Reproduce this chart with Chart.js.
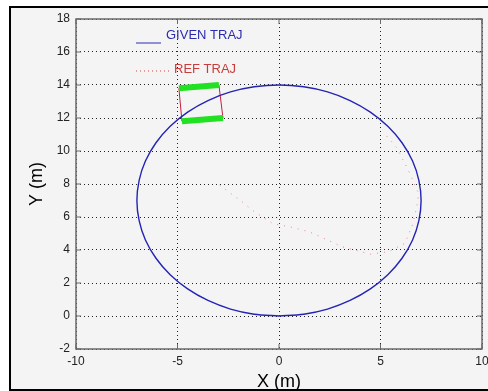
<!DOCTYPE html>
<html>
<head>
<meta charset="utf-8">
<script src="https://cdn.jsdelivr.net/npm/chart.js@4/dist/chart.umd.min.js"></script>
<style>
  body { margin: 0; background: #fff; }
  #bg { position: absolute; left: 9px; top: 6px; width: 500px; height: 385px; background: #f4f4f4; }
  #frame { position: absolute; left: 9px; top: 6px; width: 500px; height: 381px; border: 2px solid #000; pointer-events: none; }
  #wrap { position: absolute; left: 0; top: 0; width: 488px; height: 391px; }
</style>
</head>
<body>
<div id="bg"></div>
<div id="wrap"><canvas id="traj"></canvas></div>
<div id="frame"></div>
<script>
// given trajectory (blue)
const givenX = [0, 1.22, 2.39, 3.5, 4.5, 5.36, 6.06, 6.58, 6.89, 7,
  6.89, 6.58, 6.06, 5.36, 4.5, 3.5, 2.39, 1.22, 0,
  -1.22, -2.39, -3.5, -4.5, -5.36, -6.06, -6.58, -6.89, -7,
  -6.89, -6.58, -6.06, -5.36, -4.5, -3.5, -2.39, -1.22, 0];
const givenY = [0, 0.11, 0.42, 0.94, 1.64, 2.5, 3.5, 4.61, 5.78, 7,
  8.22, 9.39, 10.5, 11.5, 12.36, 13.06, 13.58, 13.89, 14,
  13.89, 13.58, 13.06, 12.36, 11.5, 10.5, 9.39, 8.22, 7,
  5.78, 4.61, 3.5, 2.5, 1.64, 0.94, 0.42, 0.11, 0];

// reference trajectory (red dots)
const refX = [5.3, 5.8, 6.05, 6.35, 6.6, 6.85, 6.85, 6.6, 6.2, 5.4, 4.5, 3.1, 2.4, 1.5, 0.55, -0.3, -1.2, -1.8, -2.4, -3.0];
const refY = [10.9, 10.2, 9.6, 8.9, 8.2, 7.5, 7.0, 5.6, 4.4, 3.9, 3.75, 4.2, 4.6, 5.1, 5.4, 5.6, 6.3, 6.9, 7.45, 8.0];

// vehicle body corners and wheels
const bodyX = [-4.93, -2.96, -2.76, -4.78, -4.93];
const bodyY = [13.8, 14.0, 12.0, 11.8, 13.8];
const wheel1X = [-4.93, -2.96];
const wheel1Y = [13.8, 14.0];
const wheel2X = [-4.78, -2.76];
const wheel2Y = [11.8, 12.0];

const xTicks = [-10, -5, 0, 5, 10];
const yTicks = [-2, 0, 2, 4, 6, 8, 10, 12, 14, 16, 18];

const pts = (xs, ys) => xs.map((x, i) => ({ x: x, y: ys[i] }));

const boxPlugin = {
  id: 'box',
  afterDraw(chart) {
    const a = chart.chartArea;
    const ctx = chart.ctx;
    ctx.save();
    ctx.strokeStyle = '#6a6a6a';
    ctx.lineWidth = 1.5;
    ctx.strokeRect(a.left, a.top, a.right - a.left, a.bottom - a.top);
    // small inside ticks on every edge
    ctx.lineWidth = 1;
    chart.scales.y.ticks.forEach(t => {
      const py = chart.scales.y.getPixelForValue(t.value);
      ctx.beginPath();
      ctx.moveTo(a.right - 5, py); ctx.lineTo(a.right, py);
      ctx.moveTo(a.left, py); ctx.lineTo(a.left + 5, py);
      ctx.stroke();
    });
    chart.scales.x.ticks.forEach(t => {
      const px = chart.scales.x.getPixelForValue(t.value);
      ctx.beginPath();
      ctx.moveTo(px, a.top); ctx.lineTo(px, a.top + 5);
      ctx.moveTo(px, a.bottom - 5); ctx.lineTo(px, a.bottom);
      ctx.stroke();
    });
    ctx.restore();
  }
};

const legendPlugin = {
  id: 'innerLegend',
  afterDraw(chart) {
    const ctx = chart.ctx;
    ctx.save();
    ctx.font = '13px "Liberation Sans", Arial, sans-serif';
    ctx.textBaseline = 'middle';
    ctx.strokeStyle = '#2b2bb0';
    ctx.lineWidth = 1;
    ctx.beginPath(); ctx.moveTo(136, 43); ctx.lineTo(161, 43); ctx.stroke();
    ctx.fillStyle = '#2b2bb0';
    ctx.fillText('GIVEN TRAJ', 166, 35);
    ctx.strokeStyle = '#d04040';
    ctx.setLineDash([1, 3]);
    ctx.beginPath(); ctx.moveTo(136, 71); ctx.lineTo(170, 71); ctx.stroke();
    ctx.setLineDash([]);
    ctx.fillStyle = '#c83c3c';
    ctx.fillText('REF TRAJ', 174, 69);
    ctx.restore();
  }
};

new Chart(document.getElementById('traj'), {
  type: 'scatter',
  data: {
    datasets: [
      { label: 'GIVEN TRAJ', data: pts(givenX, givenY), showLine: true, borderColor: '#2424b4', borderWidth: 1.4, pointRadius: 0, tension: 0.3, fill: false },
      { label: 'REF TRAJ', data: pts(refX, refY), showLine: true, borderColor: 'rgba(215,70,70,0.6)', borderWidth: 1, borderDash: [1, 6], pointRadius: 0, fill: false },
      { label: 'wheel1', data: pts(wheel1X, wheel1Y), showLine: true, borderColor: '#22e022', borderWidth: 6, pointRadius: 0, fill: false },
      { label: 'wheel2', data: pts(wheel2X, wheel2Y), showLine: true, borderColor: '#22e022', borderWidth: 6, pointRadius: 0, fill: false },
      { label: 'body', data: pts(bodyX, bodyY), showLine: true, borderColor: '#c02040', borderWidth: 1, pointRadius: 0, fill: false }
    ]
  },
  options: {
    responsive: true,
    maintainAspectRatio: false,
    animation: false,
    layout: { padding: { left: 0, right: 6, top: 19, bottom: 0 } },
    plugins: { legend: { display: false }, tooltip: { enabled: false } },
    scales: {
      x: {
        type: 'linear', min: -10, max: 10,
        afterBuildTicks: s => { s.ticks = xTicks.map(v => ({ value: v })); },
        afterFit: s => { s.height = 42; s.paddingLeft = 0; s.paddingRight = 0; },
        ticks: { color: '#222', font: { size: 12, family: '"Liberation Sans", Arial' }, padding: 5 },
        grid: { color: '#222', lineWidth: 1, drawTicks: false },
        border: { display: false, dash: [1, 3] },
        title: { display: true, text: 'X (m)', color: '#000', font: { size: 18, family: '"Liberation Sans", Arial', lineHeight: 1 }, padding: { top: 0, bottom: 0 } }
      },
      y: {
        type: 'linear', min: -2, max: 18,
        afterBuildTicks: s => { s.ticks = yTicks.map(v => ({ value: v })); },
        afterFit: s => { s.width = 76; s.paddingTop = 0; s.paddingBottom = 0; },
        ticks: { color: '#222', font: { size: 12, family: '"Liberation Sans", Arial' }, padding: 6 },
        grid: { color: '#222', lineWidth: 1, drawTicks: false },
        border: { display: false, dash: [1, 3] },
        title: { display: true, text: 'Y (m)', color: '#000', font: { size: 18, family: '"Liberation Sans", Arial', lineHeight: 1 }, padding: { top: 28, bottom: 0 } }
      }
    }
  },
  plugins: [boxPlugin, legendPlugin]
});
</script>
</body>
</html>
